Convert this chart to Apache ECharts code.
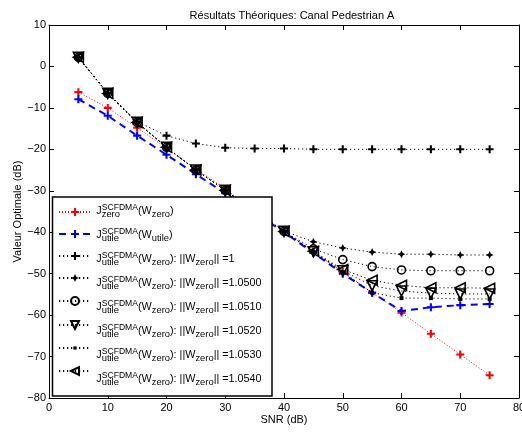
<!DOCTYPE html>
<html><head><meta charset="utf-8">
<script src="https://cdn.jsdelivr.net/npm/echarts@6/dist/echarts.min.js"></script>
<style>html,body{margin:0;padding:0;background:#fff}#c{width:522px;height:432px}</style>
</head><body><div id="c"></div>
<script>
// ---- data ----
const snr = [5, 10, 15, 20, 25, 30, 35, 40, 45, 50, 55, 60, 65, 70, 75];
const jZeroWZero   = [-6.2, -10.0, -14.8, -19.7, -24.7, -29.6, -34.7, -39.7, -44.7, -49.6, -54.6, -59.4, -64.5, -69.5, -74.5];
const jUtileWUtile = [-7.9, -11.9, -16.7, -21.3, -26.0, -30.6, -35.3, -40.0, -45.0, -50.0, -54.6, -59.0, -58.1, -57.6, -57.3];
const norm1      = [2.0, -6.4, -13.3, -16.7, -18.6, -19.6, -19.8, -19.8, -20.0, -20.0, -20.0, -20.0, -20.0, -20.0, -20.0];
const norm1_0500 = [2.2, -6.5, -13.5, -19.5, -25.0, -29.9, -35.0, -39.7, -42.3, -43.8, -44.8, -45.3, -45.3, -45.5, -45.5];
const norm1_0510 = [2.2, -6.5, -13.5, -19.5, -25.0, -29.9, -35.0, -39.8, -44.0, -46.6, -48.3, -49.1, -49.3, -49.3, -49.3];
const norm1_0520 = [2.2, -6.5, -13.5, -19.5, -25.0, -29.9, -35.0, -39.8, -44.7, -49.3, -52.9, -54.2, -54.7, -54.9, -54.9];
const norm1_0530 = [2.2, -6.5, -13.5, -19.5, -25.0, -29.9, -35.0, -39.8, -44.8, -49.6, -54.6, -55.9, -55.9, -56.1, -56.1];
const norm1_0540 = [2.2, -6.5, -13.5, -19.5, -25.0, -29.9, -35.0, -39.8, -44.6, -49.0, -51.6, -52.8, -53.4, -53.4, -53.5];
const xTicks = [0, 10, 20, 30, 40, 50, 60, 70, 80];
const yTicks = [-80, -70, -60, -50, -40, -30, -20, -10, 0, 10];
const normLabels = ['1', '1.0500', '1.0510', '1.0520', '1.0530', '1.0540'];
const titleText = 'Résultats Théoriques: Canal Pedestrian A';
const xName = 'SNR (dB)';
const yName = 'Valeur Optimale (dB)';

// ---- styling ----
const FONT = '"Liberation Sans", Arial, Helvetica, sans-serif';
const PLUS = 'path://M3.7,0H6.3V3.7H10V6.3H6.3V10H3.7V6.3H0V3.7H3.7Z';
const STAR = 'path://M5,0L6.6,3.4L10,5L6.6,6.6L5,10L3.4,6.6L0,5L3.4,3.4Z';
const DOT  = 'path://M0,0M10,10M3,3H7V7H3Z';
const blackDots = {color: '#000', width: 1, type: [1.2, 2.8]};

function pairs(vals) { return snr.map((x, i) => [x, vals[i]]); }

const seriesDefs = [
  {name: 'a', data: jZeroWZero, symbol: PLUS, size: 8, color: '#ff0000', line: {color: '#ff0000', width: 1, type: [1, 2]}},
  {name: 'b', data: jUtileWUtile, symbol: PLUS, size: 8, color: '#0000ff', line: {color: '#0000ff', width: 2, type: [7, 5]}},
  {name: 'c', data: norm1, symbol: PLUS, size: 8, color: '#000', line: blackDots},
  {name: 'd', data: norm1_0500, symbol: STAR, size: 8, color: '#000', line: blackDots},
  {name: 'e', data: norm1_0510, symbol: 'circle', size: 8, hollow: true, line: blackDots},
  {name: 'f', data: norm1_0520, symbol: 'triangle', size: 10, rot: 180, hollow: true, line: blackDots},
  {name: 'g', data: norm1_0530, symbol: DOT, size: 10, color: '#000', line: blackDots},
  {name: 'h', data: norm1_0540, symbol: 'triangle', size: 10, rot: 90, hollow: true, line: blackDots}
];

const series = seriesDefs.map(d => ({
  type: 'line', name: d.name, data: pairs(d.data),
  symbol: d.symbol, symbolSize: d.size, symbolRotate: d.rot || 0, showAllSymbol: true,
  lineStyle: d.line,
  itemStyle: d.hollow ? {color: 'rgba(0,0,0,0)', borderColor: '#000', borderWidth: 1.6}
                      : {color: d.color, borderWidth: 0},
  emphasis: {disabled: true}, silent: true, animation: false, z: 2
}));

// ---- legend labels (built as text pieces) ----
const ctx = document.createElement('canvas').getContext('2d');
function tw(t, s) { ctx.font = s + 'px ' + FONT; return ctx.measureText(t).width; }
const MAIN = 10.8, SUP = 8.6, SUB = 9.4;
const legendRows = [
  {sub: 'zero', arg: 'zero', norm: null},
  {sub: 'utile', arg: 'utile', norm: null}
].concat(normLabels.map(n => ({sub: 'utile', arg: 'zero', norm: n})));

const graphics = [{
  type: 'rect', z: 50, silent: true,
  shape: {x: 52.5, y: 197, width: 219.5, height: 199},
  style: {fill: '#fff', stroke: '#000', lineWidth: 1.5}
}];
function addText(t, x, yMid, size) {
  graphics.push({type: 'text', z: 60, silent: true,
    style: {text: t, x: x, y: yMid, fontSize: size, fontFamily: FONT, fill: '#000',
            textAlign: 'left', textVerticalAlign: 'middle'}});
  return tw(t, size);
}
legendRows.forEach((r, i) => {
  const base = 213 + 24 * i + 1.7;
  const mMid = base - 0.35 * MAIN;
  const supMid = base - 4.4 - 0.35 * SUP;
  const subMid = base + 2.6 - 0.35 * SUB;
  let x = 96.3;
  x += addText('J', x, mMid, MAIN);
  const w1 = addText('SCFDMA', x, supMid, SUP);
  const w2 = addText(r.sub, x, subMid, SUB);
  x += Math.max(w1, w2);
  x += addText('(W', x, mMid, MAIN);
  x += addText(r.arg, x, subMid, SUB);
  x += addText(')', x, mMid, MAIN);
  if (r.norm) {
    x += addText(': ||W', x, mMid, MAIN);
    x += addText('zero', x, subMid, SUB);
    addText('|| =' + r.norm, x, mMid, MAIN);
  }
});

const minus = v => String(v).replace('-', '\u2212');
const axBase = {
  axisLine: {show: true, onZero: false, lineStyle: {color: '#000', width: 1}},
  axisTick: {show: true, inside: true, length: 5, lineStyle: {color: '#000'}},
  splitLine: {show: false}
};
const xCommon = Object.assign({type: 'value', min: xTicks[0], max: xTicks[xTicks.length - 1], interval: xTicks[1] - xTicks[0]}, axBase);
const yCommon = Object.assign({type: 'value', min: yTicks[0], max: yTicks[yTicks.length - 1], interval: yTicks[1] - yTicks[0]}, axBase);

const option = {
  backgroundColor: '#fff',
  animation: false,
  title: {text: titleText, left: 287, top: 5, textAlign: 'center',
          textStyle: {fontSize: 11, fontWeight: 'normal', color: '#000', fontFamily: FONT}},
  grid: {left: 49, right: 3, top: 25, bottom: 34, containLabel: false, outerBoundsMode: 'none'},
  xAxis: [
    Object.assign({}, xCommon, {position: 'bottom', name: xName, nameLocation: 'middle', nameGap: 16,
      nameMoveOverlap: false,
      nameTextStyle: {fontSize: 11, color: '#000', fontFamily: FONT},
      axisLabel: {color: '#000', fontSize: 11, fontFamily: FONT, margin: 4}}),
    Object.assign({}, xCommon, {position: 'top', axisLabel: {show: false}})
  ],
  yAxis: [
    Object.assign({}, yCommon, {position: 'left', name: yName, nameLocation: 'middle', nameGap: 26,
      nameMoveOverlap: false,
      nameTextStyle: {fontSize: 11, color: '#000', fontFamily: FONT},
      axisLabel: {color: '#000', fontSize: 11, fontFamily: FONT, margin: 3, formatter: minus}}),
    Object.assign({}, yCommon, {position: 'right', axisLabel: {show: false}})
  ],
  legend: {
    orient: 'vertical', left: 58, top: 208, padding: 0, itemGap: 14,
    itemWidth: 32, itemHeight: 10, z: 60, selectedMode: false,
    data: seriesDefs.map(d => d.name),
    formatter: () => ' ', textStyle: {fontSize: 1}
  },
  graphic: graphics,
  series: series
};
const chart = echarts.init(document.getElementById('c'), null, {renderer: 'canvas'});
chart.setOption(option);
</script>
</body></html>
